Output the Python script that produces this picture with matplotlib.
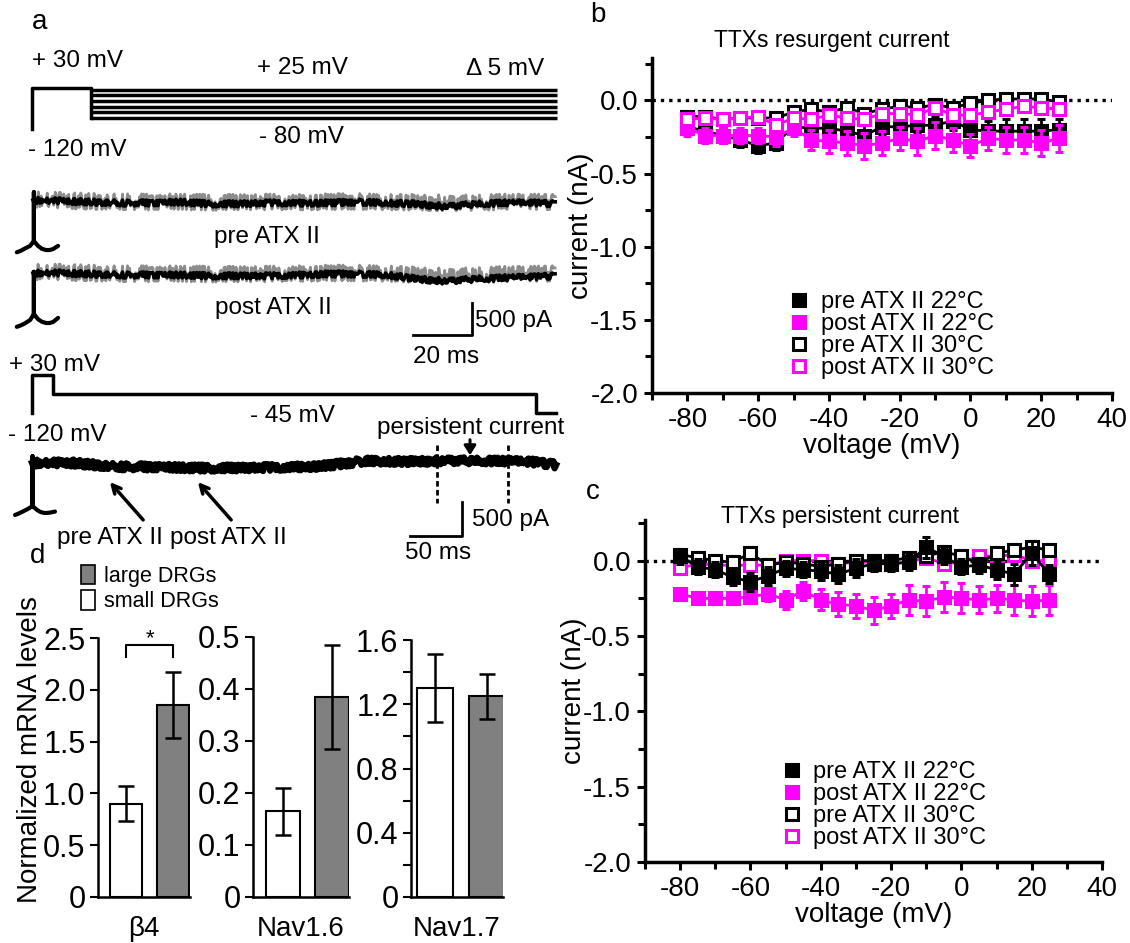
import matplotlib
matplotlib.use('Agg')
import matplotlib.pyplot as plt
from matplotlib.lines import Line2D
from matplotlib.patches import Patch
from matplotlib.ticker import MultipleLocator, FuncFormatter, FormatStrFormatter

plt.rcParams['font.family'] = ['Liberation Sans', 'DejaVu Sans']
plt.rcParams['axes.unicode_minus'] = False

MAGENTA = '#ff00ff'
GREY = '#808080'
TRACE_GREY = '#8c8c8c'

# ---- I-V data: test potential (mV) vs peak current (nA), mean and SEM ----
volts = [-80, -75, -70, -65, -60, -55, -50, -45, -40, -35, -30,
         -25, -20, -15, -10, -5, 0, 5, 10, 15, 20, 25]

# resurgent current (panel b)
res_pre22 = [-0.18, -0.21, -0.24, -0.27, -0.31, -0.29, -0.18, -0.19, -0.19, -0.21, -0.24,
             -0.18, -0.18, -0.17, -0.17, -0.14, -0.20, -0.21, -0.21, -0.21, -0.21, -0.20]
res_pre22_err = [0.04, 0.04, 0.05, 0.05, 0.05, 0.05, 0.04, 0.06, 0.06, 0.06, 0.07,
                 0.06, 0.06, 0.06, 0.06, 0.06, 0.07, 0.07, 0.08, 0.08, 0.08, 0.07]
res_post22 = [-0.19, -0.24, -0.24, -0.24, -0.24, -0.25, -0.19, -0.27, -0.28, -0.29, -0.31,
              -0.29, -0.26, -0.28, -0.24, -0.27, -0.31, -0.26, -0.27, -0.27, -0.29, -0.26]
res_post22_err = [0.05, 0.05, 0.05, 0.05, 0.05, 0.06, 0.05, 0.07, 0.08, 0.08, 0.09,
                  0.08, 0.08, 0.09, 0.09, 0.08, 0.08, 0.08, 0.09, 0.09, 0.09, 0.09]
res_pre30 = [-0.11, -0.11, -0.13, -0.12, -0.12, -0.12, -0.08, -0.06, -0.08, -0.05, -0.09,
             -0.06, -0.04, -0.05, -0.03, -0.05, -0.02, 0.00, 0.01, 0.01, 0.01, -0.01]
res_pre30_err = [0.03, 0.03, 0.03, 0.03, 0.03, 0.04, 0.04, 0.04, 0.04, 0.04, 0.04,
                 0.04, 0.04, 0.04, 0.04, 0.04, 0.03, 0.03, 0.03, 0.03, 0.03, 0.03]
res_post30 = [-0.13, -0.12, -0.13, -0.12, -0.11, -0.17, -0.12, -0.13, -0.10, -0.12, -0.13,
              -0.09, -0.09, -0.10, -0.05, -0.10, -0.10, -0.08, -0.06, -0.04, -0.05, -0.06]
res_post30_err = [0.03] * 22

# persistent current (panel c)
per_pre22 = [0.03, -0.04, -0.06, -0.11, -0.14, -0.10, -0.05, -0.06, -0.07, -0.09, -0.05,
             -0.02, -0.02, -0.01, 0.09, 0.03, -0.04, -0.03, -0.06, -0.09, 0.05, -0.09]
per_pre22_err = [0.05, 0.05, 0.05, 0.05, 0.06, 0.06, 0.05, 0.05, 0.06, 0.06, 0.06,
                 0.05, 0.05, 0.05, 0.07, 0.05, 0.05, 0.05, 0.06, 0.07, 0.08, 0.06]
per_post22 = [-0.22, -0.25, -0.25, -0.25, -0.24, -0.22, -0.26, -0.20, -0.26, -0.29, -0.30,
              -0.33, -0.30, -0.26, -0.27, -0.24, -0.25, -0.26, -0.25, -0.26, -0.27, -0.26]
per_post22_err = [0.04, 0.04, 0.04, 0.04, 0.04, 0.05, 0.06, 0.06, 0.07, 0.08, 0.08,
                  0.09, 0.08, 0.10, 0.10, 0.10, 0.10, 0.09, 0.09, 0.10, 0.10, 0.10]
per_pre30 = [0.04, 0.02, 0.00, -0.01, 0.05, -0.03, -0.01, -0.02, -0.04, -0.02, 0.00,
             0.00, 0.00, 0.02, 0.03, 0.06, 0.03, -0.02, 0.05, 0.07, 0.09, 0.07]
per_pre30_err = [0.04] * 22
per_post30 = [-0.05, -0.02, -0.03, -0.03, -0.03, -0.03, 0.00, 0.00, 0.00, -0.02, -0.01,
              -0.01, -0.02, -0.01, 0.02, -0.02, -0.01, 0.03, 0.03, 0.04, 0.00, 0.00]
per_post30_err = [0.03] * 22

legend_labels = ['pre ATX II 22°C', 'post ATX II 22°C', 'pre ATX II 30°C', 'post ATX II 30°C']

# ---- qPCR: normalized mRNA (mean, SEM) for small / large DRG neurons ----
genes = ['β4', 'Nav1.6', 'Nav1.7']
mrna_small = [0.90, 0.165, 1.30]
mrna_small_err = [0.17, 0.045, 0.21]
mrna_large = [1.85, 0.384, 1.25]
mrna_large_err = [0.32, 0.10, 0.14]

# ---- example recordings (ms, pA) and voltage protocols (ms, mV) ----
prot1_t = [0, 0, 20, 20]
prot1_v = [-120, 30, 30, -80]
family_v = [25, 4, -17, -38, -59, -80]
family_t = [20, 178]

trace_t = [0, 10, 20, 30, 40, 50, 60, 70, 80, 90, 100, 110, 120, 130, 140, 150, 160, 170, 177]
pre_black = [45, 30, 15, 0, 0, 15, -15, -15, 0, 0, 0, 15, 0, -15, -55, -15, 0, 0, -15]
pre_grey = [60, 40, 25, 20, 15, 20, 10, 10, 15, 15, 20, 25, 15, 10, 0, 10, 15, 15, 10]
post_black = [30, 30, 15, 0, 0, 0, -15, -15, -15, 0, 15, 15, 0, -60, -95, -60, -45, -30, -15]
post_grey = [50, 45, 30, 20, 20, 20, 15, 10, 15, 25, 30, 30, 25, 0, -20, 0, 10, 15, 20]
# clipped capacitive transient at step onset
cap_t = [-5.5, -4.3, -3.1, -1.0, 0.3, 0.3, 0.3, 1.7, 3.0, 4.4, 5.6, 6.8, 8.5]
pre_cap = [-770, -750, -720, -670, -595, 170, -595, -670, -715, -735, -735, -720, -670]
post_cap = [-810, -790, -765, -705, -610, 50, -610, -690, -730, -750, -750, -735, -670]

prot2_t = [0, 0, 20, 20, 485, 485, 504]
prot2_v = [-120, 30, 30, -45, -45, -120, -120]
pers_t = [0, 40, 80, 120, 160, 200, 240, 280, 320, 360, 400, 440, 480, 504]
pers_i = [30, 30, -25, -30, -45, -45, -35, -15, 60, 50, 65, 60, 45, 0]
pers_cap_t = [-16.3, -13.0, -9.6, -3.8, 0.5, 0.5, 0.5, 4.8, 8.0, 11.5, 14.5, 17.3, 22.1]
pers_cap_i = [-735, -715, -690, -645, -605, 130, -605, -660, -690, -705, -705, -700, -685]
pers_window = [389, 458]

W, H = 1130, 943
fig = plt.figure(figsize=(W / 100, H / 100), dpi=100)


def px_box(l, t, r, b):
    return [l / W, 1 - b / H, (r - l) / W, (b - t) / H]


def label(x, y, s, size=17.5, **kw):
    kw.setdefault('ha', 'left')
    kw.setdefault('va', 'center')
    fig.text(x / W, 1 - y / H, s, fontsize=size, **kw)


def scaled_axes(x0, y0, sx, sy, xlim, ylim):
    # axes whose data origin sits at pixel (x0, y0), sx/sy pixels per unit
    l, r = x0 + xlim[0] * sx, x0 + xlim[1] * sx
    t, b = y0 - ylim[1] * sy, y0 - ylim[0] * sy
    ax = fig.add_axes(px_box(l, t, r, b))
    ax.set_xlim(xlim)
    ax.set_ylim(ylim)
    ax.axis('off')
    return ax


def noisy(ax, t, i, color, lw, amp):
    # recording noise drawn as a sketch wiggle around the read baseline
    ln, = ax.plot(t, i, color=color, lw=lw, clip_on=False)
    ln.set_sketch_params(scale=amp, length=2.5, randomness=3)


def curl(ax, t, i):
    ax.plot(t, i, color='k', lw=3, clip_on=False, solid_capstyle='round',
            solid_joinstyle='round')


# overlay in pixel units for arrows
ov = fig.add_axes([0, 0, 1, 1])
ov.set_xlim(0, W)
ov.set_ylim(H, 0)
ov.axis('off')

# ---------------- panel a ----------------
label(40, 22, 'a', size=20, ha='center')

p1 = scaled_axes(31.7, 96.4, 2.95, 0.27, (-5, 180), (-125, 35))
p1.plot(prot1_t, prot1_v, color='k', lw=2.5, clip_on=False)
for v in family_v:
    p1.plot(family_t, [v, v], color='k', lw=2.5, clip_on=False, solid_capstyle='butt')
label(32, 61, '+ 30 mV')
label(302, 68, '+ 25 mV', ha='center')
label(505, 69, 'Δ 5 mV', ha='center')
label(28, 150, '- 120 mV')
label(301, 137, '- 80 mV', ha='center')

tr1 = scaled_axes(33, 203, 2.95, 0.064, (-8, 182), (-900, 300))
noisy(tr1, trace_t, pre_grey, TRACE_GREY, 2.0, 8)
noisy(tr1, trace_t, pre_black, 'k', 2.6, 3)
curl(tr1, cap_t, pre_cap)
label(267, 237, 'pre ATX II', ha='center')

tr2 = scaled_axes(33, 275, 2.95, 0.064, (-8, 182), (-1000, 300))
noisy(tr2, trace_t, post_grey, TRACE_GREY, 2.0, 8)
noisy(tr2, trace_t, post_black, 'k', 2.6, 3)
curl(tr2, cap_t, post_cap)
tr2.plot([128.9, 148.9, 148.9], [-937, -937, -437], color='k', lw=2, clip_on=False)
label(273, 308, 'post ATX II', ha='center')
label(475, 321, '500 pA')
label(446, 357, '20 ms', ha='center')

p2 = scaled_axes(32, 382.6, 1.04, 0.2533, (-5, 510), (-125, 35))
p2.plot(prot2_t, prot2_v, color='k', lw=2.5, clip_on=False)
label(9, 365, '+ 30 mV')
label(8, 435, '- 120 mV')
label(292, 416, '- 45 mV', ha='center')
label(377, 428, 'persistent current')

tr3 = scaled_axes(32, 465, 1.04, 0.068, (-20, 510), (-1100, 350))
noisy(tr3, pers_t, pers_i, 'k', 4.5, 3.5)
curl(tr3, pers_cap_t, pers_cap_i)
for tw in pers_window:
    tr3.plot([tw, tw], [295, -565], color='k', lw=2, ls=(0, (2, 1.2)), clip_on=False)
tr3.plot([363, 413, 413], [-1040, -1040, -540], color='k', lw=2, clip_on=False)
label(472, 520, '500 pA')
label(438, 553, '50 ms', ha='center')

ov.annotate('', xy=(470, 458), xytext=(470, 437),
            arrowprops=dict(arrowstyle='-|>,head_length=0.55,head_width=0.35', color='k', lw=2.2))
for tip, tail in [((108, 480), (145, 522)), ((196, 480), (233, 522))]:
    ov.annotate('', xy=tip, xytext=tail,
                arrowprops=dict(arrowstyle='->,head_length=0.6,head_width=0.3', color='k', lw=2.5))
label(110, 538, 'pre ATX II', ha='center')
label(228, 538, 'post ATX II', ha='center')


# ---------------- panels b, c ----------------
def iv_panel(box, ytop, series):
    ax = fig.add_axes(px_box(*box))
    ax.set_facecolor('none')
    ax.axhline(0, color='k', lw=2.4, ls=(0, (1, 1.5)), zorder=0)
    for vals, errs, color, face, z in series:
        ax.errorbar(volts, vals, yerr=errs, fmt='-s', color=color, mfc=face, mec=color,
                    ms=8, mew=2.2, lw=2, elinewidth=2, capsize=3, capthick=2,
                    zorder=z, clip_on=False)
    ax.set_xlim(-90, 40)
    ax.set_ylim(-2.0, ytop)
    ax.xaxis.set_major_locator(MultipleLocator(20))
    ax.xaxis.set_minor_locator(MultipleLocator(10))
    ax.yaxis.set_major_locator(MultipleLocator(0.5))
    ax.yaxis.set_minor_locator(MultipleLocator(0.25))
    ax.yaxis.set_major_formatter(FormatStrFormatter('%.1f'))
    for s in ['top', 'right']:
        ax.spines[s].set_visible(False)
    for s in ['left', 'bottom']:
        ax.spines[s].set_linewidth(2.5)
    ax.tick_params(which='major', length=6, width=2.2, labelsize=20, pad=4)
    ax.tick_params(which='minor', length=5, width=2.2)
    ax.set_xlabel('voltage (mV)', fontsize=20, labelpad=0)
    ax.set_ylabel('current (nA)', fontsize=20, labelpad=-3)
    return ax


def legend_handles():
    styles = [('k', 'k'), (MAGENTA, MAGENTA), ('k', 'white'), (MAGENTA, 'white')]
    return [Line2D([], [], ls='none', marker='s', color=c, mfc=f, mec=c, ms=9, mew=2.2)
            for c, f in styles]


def iv_legend(ax, anchor):
    ax.legend(legend_handles(), legend_labels, loc='upper left', bbox_to_anchor=anchor,
              frameon=False, fontsize=17, handlelength=0.8, handletextpad=0.5,
              labelspacing=0.0, borderpad=0, borderaxespad=0)


axb = iv_panel((652, 58, 1112, 393), 0.29, [
    (res_pre22, res_pre22_err, 'k', 'k', 3),
    (res_post22, res_post22_err, MAGENTA, MAGENTA, 4),
    (res_pre30, res_pre30_err, 'k', 'white', 5),
    (res_post30, res_post30_err, MAGENTA, 'white', 6),
])
iv_legend(axb, (0.3, 0.305))
label(598, 15, 'b', size=20, ha='center')
label(832, 40, 'TTXs resurgent current', size=16.5, ha='center')

axc = iv_panel((645, 520, 1102, 862), 0.27, [
    (per_post22, per_post22_err, MAGENTA, MAGENTA, 3),
    (per_post30, per_post30_err, MAGENTA, 'white', 4),
    (per_pre30, per_pre30_err, 'k', 'white', 5),
    (per_pre22, per_pre22_err, 'k', 'k', 6),
])
iv_legend(axc, (0.3, 0.295))
label(593, 492, 'c', size=20, ha='center')
label(840, 517, 'TTXs persistent current', size=16.5, ha='center')

# ---------------- panel d ----------------
label(38, 556, 'd', size=20, ha='center')
label(30, 750, 'Normalized mRNA levels', size=20, ha='center', rotation=90)
fig.legend([Patch(fc=GREY, ec='k', lw=1.2), Patch(fc='white', ec='k', lw=1.2)],
           ['large DRGs', 'small DRGs'], loc='upper left',
           bbox_to_anchor=(81 / W, 1 - 565 / H), frameon=False, fontsize=15.5,
           handlelength=0.65, handleheight=1.0, handletextpad=0.4, labelspacing=0.15,
           borderpad=0, borderaxespad=0)


def zero_fmt(v, pos):
    return '0' if abs(v) < 1e-9 else f'{v:.1f}'


bar_boxes = [(98, 638, 190, 897), (253, 637, 349, 897), (411, 640, 503, 897)]
bar_ylims = [2.5, 0.5, 1.6]
bar_major = [0.5, 0.1, 0.4]
bar_minor = [None, None, 0.2]
bar_xlims = [(-0.6, 1.36), (-0.62, 1.34), (-0.45, 1.3)]

for k, gene in enumerate(genes):
    ax = fig.add_axes(px_box(*bar_boxes[k]))
    ax.set_facecolor('none')
    ax.bar([0, 1], [mrna_small[k], mrna_large[k]], width=0.69,
           color=['white', GREY], edgecolor='k', linewidth=1.5,
           yerr=[mrna_small_err[k], mrna_large_err[k]],
           error_kw=dict(ecolor='k', elinewidth=1.8, capsize=6, capthick=1.8))
    ax.set_ylim(0, bar_ylims[k])
    ax.set_xlim(*bar_xlims[k])
    ax.yaxis.set_major_locator(MultipleLocator(bar_major[k]))
    if bar_minor[k]:
        ax.yaxis.set_minor_locator(MultipleLocator(bar_minor[k]))
    ax.yaxis.set_major_formatter(FuncFormatter(zero_fmt))
    ax.set_xticks([])
    for s in ['top', 'right']:
        ax.spines[s].set_visible(False)
    for s in ['left', 'bottom']:
        ax.spines[s].set_linewidth(1.8)
    ax.tick_params(axis='y', which='major', length=6, width=1.5, labelsize=22, pad=3)
    ax.tick_params(axis='y', which='minor', length=6, width=1.5)
    ax.set_xlabel(gene, fontsize=20, labelpad=14)
    if k == 0:
        # significance bracket over the two bars
        top = mrna_large[k] + mrna_large_err[k] + 0.15
        ax.plot([0, 0, 1, 1], [top, top + 0.11, top + 0.11, top],
                color='k', lw=1.5, clip_on=False)
        ax.text(0.5, top + 0.07, '*', ha='center', va='bottom', fontsize=16)

fig.savefig('out.png', dpi=100, facecolor='white')
